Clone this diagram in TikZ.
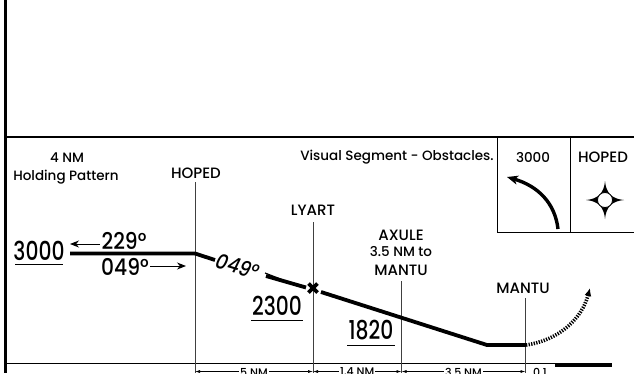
\documentclass[tikz,border=0pt]{standalone}
\usepackage{fontspec}
\setmainfont{Poppins Medium}[ItalicFont={Poppins Medium Italic}]
\newfontfamily\numfont{Poppins Medium}[FakeStretch=0.78,ItalicFont={Poppins Medium Italic}]
\newfontfamily\crsfont{Poppins Medium}[FakeStretch=0.88,ItalicFont={Poppins Medium Italic}]
\usetikzlibrary{arrows.meta}
\begin{document}
\begin{tikzpicture}[x=1pt,y=-1pt,
  frame/.style={line width=2.5pt},
  thin/.style={line width=0.9pt},
  fixline/.style={line width=0.9pt,draw=black!75},
  track/.style={line width=3.8pt},
  lbl/.style={inner sep=0pt,font=\fontsize{13.5}{15}\selectfont},
  caps/.style={inner sep=0pt,font=\fontsize{15}{17}\selectfont},
  big/.style={inner sep=0pt,font=\numfont\fontsize{26}{28}\selectfont},
  mid/.style={inner sep=0pt,font=\crsfont\fontsize{23}{25}\selectfont},
  dim/.style={inner sep=1pt,fill=white,font=\fontsize{11}{12}\selectfont},
  dimarrow/.style={line width=0.6pt,{Latex[length=5pt,width=3pt]}-{Latex[length=5pt,width=3pt]}}
]
\useasboundingbox (0,0) rectangle (634,373);
% frame
\draw[frame] (5.5,0) -- (5.5,373);
\draw[frame] (4.25,137) -- (634,137);
\draw[thin] (5.5,363.5) -- (555,363.5);
\fill (555,362.5) rectangle (612,367);
% legend boxes
\draw[thin] (497,137) -- (497,232) -- (634,232);
\draw[thin] (570,137) -- (570,232);
\node[lbl] (bx3000) at (533,157) {3000};
\node[caps] (bxhoped) at (603,157) {HOPED};
\coordinate (ca) at (558,229);
\coordinate (cb) at (507,177);
\draw[line width=3.4pt,-{Stealth[length=11pt,width=9pt,inset=3pt]}] (ca) .. controls (555,203) and (538,186) .. (cb);
% star symbol
\coordinate (st) at (605,200);
\fill (624,200) .. controls (612,199) and (606,193) .. (605,181)
  .. controls (604,193) and (598,199) .. (586,200)
  .. controls (598,201) and (604,207) .. (605,219)
  .. controls (606,207) and (612,201) .. (624,200) -- cycle;
\draw[line width=0.8pt,fill=white] (st) circle (7.5);
% title text
\node[lbl] (vis) at (397,157) {Visual Segment - Obstacles.};
\node[lbl] (hold1) at (67,158) {4 NM};
\node[lbl] (hold2) at (66,177) {Holding Pattern};
% fixes
\node[caps] (hoped) at (196,173) {HOPED};
\node[caps] (lyart) at (313,210) {LYART};
\node[caps] (axule1) at (401,235) {AXULE};
\node[lbl] (axule2) at (401,252) {3.5 NM to};
\node[caps] (axule3) at (401,270) {MANTU};
\node[caps] (mantu) at (523,288) {MANTU};
\coordinate (hopedB) at (195,373);
\coordinate (lyartB) at (313,373);
\coordinate (axuleB) at (401.5,373);
\coordinate (mantuB) at (525.5,373);
\draw[fixline] (195,182) -- (hopedB);
\draw[fixline] (313,222) -- (lyartB);
\draw[fixline] (401.5,281) -- (axuleB);
\draw[fixline] (525.5,298) -- (mantuB);
% dimension lines
\coordinate (d1) at (195,371.5);
\coordinate (d2) at (313,371.5);
\coordinate (d3) at (401.5,371.5);
\coordinate (d4) at (525.5,371.5);
\draw[dimarrow] (d1) -- (d2) node[dim,midway,yshift=-0.5pt] {5 NM};
\draw[dimarrow] (d2) -- (d3) node[dim,midway,yshift=-0.5pt] {1.4 NM};
\draw[dimarrow] (d3) -- (d4) node[dim,midway,yshift=-0.5pt] {3.5 NM};
\node[dim] (d01) at (540,372) {0.1};
% track
\coordinate (t0) at (70,253.5);
\coordinate (t1) at (195,253.5);
\coordinate (t2) at (215,260);
\coordinate (t3) at (266,276);
\coordinate (t4) at (306,287.5);
\coordinate (t5) at (321,292);
\coordinate (t6) at (487,345);
\coordinate (t7) at (526,345);
\coordinate (t8) at (590,288);
\draw[track] (t0) -- (t1) -- (t2);
\node[inner sep=0pt,rotate=-17,font=\crsfont\fontsize{21}{23}\selectfont\itshape] (crs) at (238,266) {049°};
\draw[track] (t3) -- (t4);
\draw[line width=1.2pt] (265,273) -- (283,280);
\draw[line width=3.6pt] (308.5,283.5) -- (317.5,292.5) (317.5,283.5) -- (308.5,292.5);
\draw[track] (t5) -- (t6) -- (t7);
\draw[line width=3.6pt,dash pattern=on 1.3pt off 1.3pt,-{Latex[length=8pt,width=7pt]}] (t7) .. controls (560,340) and (582,318) .. (t8);
% altitudes and courses
\node[big] (alt3000) at (39,250.5) {3000};
\draw[line width=0.8pt] (15,264) -- (63,264);
\node[mid] (in229) at (124,240.5) {229°};
\draw[line width=1pt,-{Stealth[length=9pt,width=7pt]}] (100,244) -- (70,244);
\node[mid] (out049) at (125,266.5) {049°};
\draw[line width=1pt,-{Stealth[length=9pt,width=7pt]}] (150,266) -- (186,266);
\node[big] (alt2300) at (277,306) {2300};
\draw[line width=0.8pt] (251,320) -- (303,320);
\node[big] (alt1820) at (371,330.5) {1820};
\draw[line width=0.8pt] (347,345) -- (395,345);
\end{tikzpicture}
\end{document}
